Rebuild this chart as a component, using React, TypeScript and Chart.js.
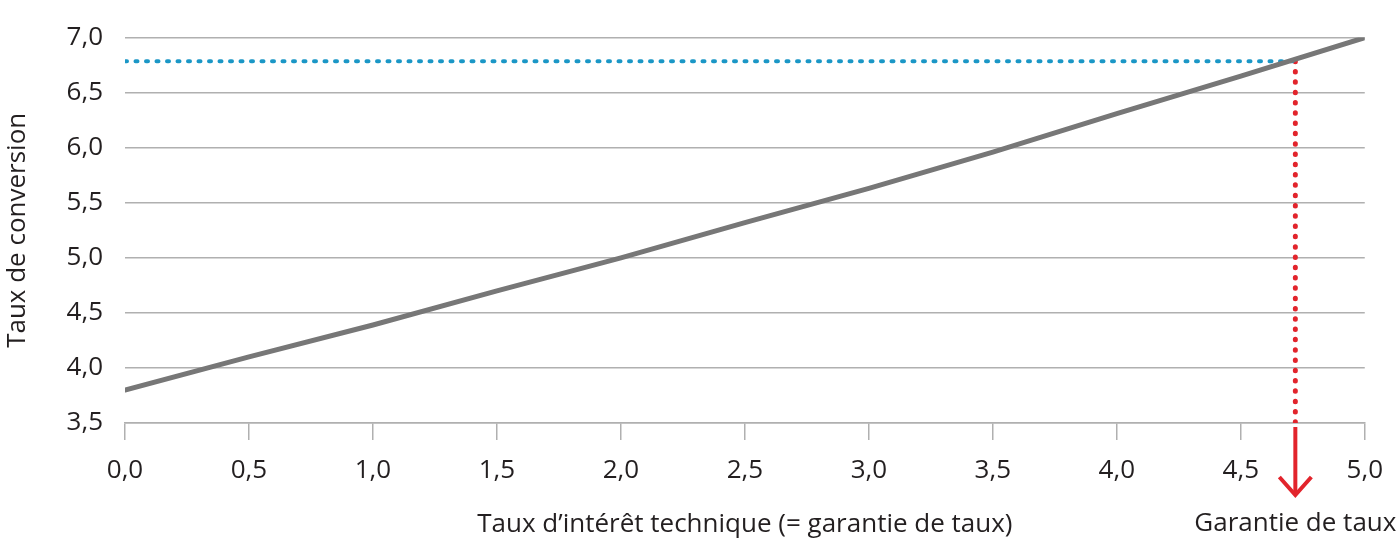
import React, { useEffect, useRef } from "react";
import { Chart, registerables } from "chart.js";

Chart.register(...registerables);

// ---- data ----
const rateX: number[] = [0, 0.5, 1.0, 1.5, 2.0, 2.5, 3.0, 3.5, 4.0, 4.5, 5.0];
const conversionY: number[] = [3.8, 4.1, 4.39, 4.7, 5.0, 5.32, 5.63, 5.96, 6.31, 6.65, 7.0];
const guaranteeRate = 4.72;
const guaranteedConversion = 6.785;
const xRange: number[] = [0, 5];
const yRange: number[] = [3.5, 7.0];
const tickStep = 0.5;
const xTitle = "Taux d\u2019intérêt technique (= garantie de taux)";
const yTitle = "Taux de conversion";
const markerLabel = "Garantie de taux";

const FONT = "'Open Sans', 'Noto Sans', sans-serif";
const FS = 26;
const TEXT = "#231f20";
const GRID = "#b0b0b0";
const RED = "#e2242c";
const BLUE = "#1b97c6";

const fmt = (v: number | string) => Number(v).toFixed(1).replace(".", ",");

const arrowPlugin = {
  id: "guaranteeArrow",
  afterDraw(chart: any) {
    const { ctx, chartArea, scales } = chart;
    const x = scales.x.getPixelForValue(guaranteeRate);
    const y0 = chartArea.bottom + 4;
    const y1 = chartArea.bottom + 72;
    ctx.save();
    ctx.strokeStyle = RED;
    ctx.lineWidth = 4;
    ctx.lineCap = "butt";
    ctx.beginPath();
    ctx.moveTo(x, y0);
    ctx.lineTo(x, y1 - 2);
    ctx.stroke();
    ctx.lineJoin = "miter";
    ctx.beginPath();
    ctx.moveTo(x - 16, y1 - 18);
    ctx.lineTo(x, y1);
    ctx.lineTo(x + 16, y1 - 18);
    ctx.stroke();
    ctx.fillStyle = TEXT;
    ctx.font = `${FS}px ${FONT}`;
    ctx.textAlign = "center";
    ctx.textBaseline = "middle";
    ctx.fillText(markerLabel, x, chart.height - 25);
    ctx.restore();
  },
};

export default function App() {
  const ref = useRef<HTMLCanvasElement | null>(null);

  useEffect(() => {
    document.body.style.margin = "0";
    const canvas = ref.current;
    if (!canvas) return;
    const chart = new Chart(canvas, {
      type: "line",
      data: {
        datasets: [
          {
            label: "Taux de conversion",
            data: rateX.map((x, i) => ({ x, y: conversionY[i] })),
            borderColor: "#777777",
            borderWidth: 5,
            borderCapStyle: "round",
            pointRadius: 0,
            tension: 0,
            order: 0,
          },
          {
            label: "guaranteed",
            data: [
              { x: xRange[0], y: guaranteedConversion },
              { x: guaranteeRate, y: guaranteedConversion },
            ],
            borderColor: BLUE,
            borderWidth: 4,
            borderDash: [2, 8.5],
            borderCapStyle: "round",
            pointRadius: 0,
            order: 1,
          },
          {
            label: "drop",
            data: [
              { x: guaranteeRate, y: guaranteedConversion },
              { x: guaranteeRate, y: yRange[0] },
            ],
            borderColor: RED,
            borderWidth: 5,
            borderDash: [0.5, 9.8],
            borderCapStyle: "round",
            pointRadius: 0,
            order: 2,
          },
        ],
      },
      options: {
        responsive: false,
        animation: false,
        devicePixelRatio: 1,
        layout: { padding: { top: 33, right: 31, left: 0, bottom: 0 } },
        plugins: { legend: { display: false }, tooltip: { enabled: false } },
        scales: {
          x: {
            type: "linear",
            min: xRange[0],
            max: xRange[1],
            ticks: {
              stepSize: tickStep,
              callback: (v: any) => fmt(v),
              font: { family: FONT, size: FS },
              color: TEXT,
              padding: 15,
              maxRotation: 0,
            },
            grid: {
              drawOnChartArea: false,
              drawTicks: true,
              tickLength: 17,
              color: GRID,
              lineWidth: 1.5,
            },
            border: { display: true, color: GRID, width: 1.5 },
            title: {
              display: true,
              text: xTitle,
              font: { family: FONT, size: FS },
              color: TEXT,
              padding: { top: 0, bottom: 9 },
            },
            afterFit: (s: any) => {
              s.height = 126;
            },
          },
          y: {
            min: yRange[0],
            max: yRange[1],
            ticks: {
              stepSize: tickStep,
              callback: (v: any) => fmt(v),
              font: { family: FONT, size: FS },
              color: TEXT,
              padding: 22,
            },
            grid: { drawTicks: false, color: GRID, lineWidth: 1.5 },
            border: { display: false },
            title: {
              display: true,
              text: yTitle,
              font: { family: FONT, size: FS },
              color: TEXT,
              padding: { top: 2, bottom: 0 },
            },
            afterFit: (s: any) => {
              s.width = 125;
            },
          },
        },
      },
      plugins: [arrowPlugin],
    } as any);
    return () => chart.destroy();
  }, []);

  return (
    <div style={{ width: 1398, height: 549, position: "relative" }}>
      <canvas ref={ref} width={1398} height={549} />
    </div>
  );
}
